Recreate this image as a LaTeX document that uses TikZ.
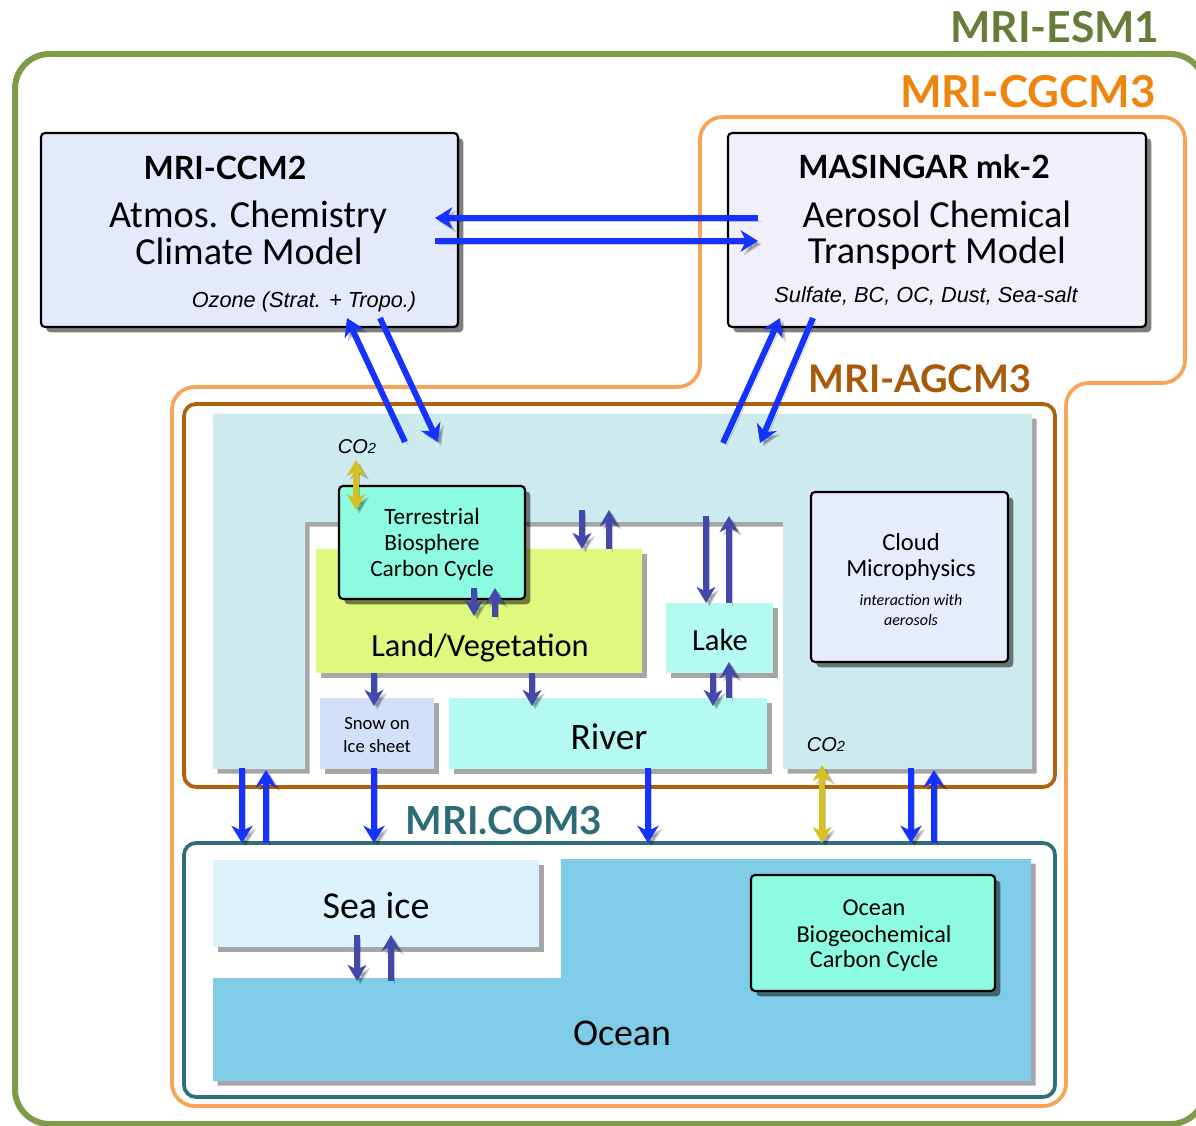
\documentclass[tikz,border=0pt]{standalone}
\usepackage{fontspec}
\setmainfont{Carlito}
\newfontfamily\arialf{Liberation Sans}
\newfontfamily\ttlf{Lato}
\usetikzlibrary{arrows.meta,shadows,fit}
\definecolor{esmgreen}{HTML}{7E9B4A}
\definecolor{esmtxt}{HTML}{667D39}
\definecolor{cgcm}{HTML}{F8A457}
\definecolor{cgcmtxt}{HTML}{EE8511}
\definecolor{agcm}{HTML}{B35F0C}
\definecolor{agcmtxt}{HTML}{A85A0A}
\definecolor{com}{HTML}{2E6F7B}
\definecolor{comtxt}{HTML}{2D6B76}
\definecolor{atmos}{HTML}{CDEBEE}
\definecolor{landc}{HTML}{DEF97E}
\definecolor{bioc}{HTML}{8CFBE0}
\definecolor{waterc}{HTML}{B4FAF2}
\definecolor{snowc}{HTML}{D3E0FA}
\definecolor{cloudc}{HTML}{E6ECFC}
\definecolor{ccmfill}{HTML}{E5E9FC}
\definecolor{masfill}{HTML}{F1EFFC}
\definecolor{seaicec}{HTML}{DCF2FC}
\definecolor{oceanc}{HTML}{7ECCE8}
\definecolor{ablue}{HTML}{1433FF}
\definecolor{apurple}{HTML}{4249AA}
\definecolor{ayellow}{HTML}{D6C21E}
\tikzset{
  shd/.style={drop shadow={shadow xshift=3.5pt,shadow yshift=-3.5pt,fill=black,opacity=0.35}},
  plainbox/.style={inner sep=0pt, shd, draw=none},
  framedbox/.style={inner sep=0pt, drop shadow={shadow xshift=4pt,shadow yshift=-4pt,fill=black,opacity=0.5}, draw=black, line width=1.6pt, rounded corners=3pt},
  txt/.style={inner sep=0pt, align=center, text=black},
  ttl/.style={inner sep=0pt, font=\ttlf\bfseries},
  ashadow/.style={preaction={draw=black, opacity=0.22, transform canvas={xshift=2.5pt,yshift=-2.5pt}}},
  barrow/.style={ashadow, draw=ablue, line width=4.5pt, -{Stealth[length=13pt,width=16pt,inset=4pt]}},
  parrow/.style={ashadow, draw=apurple, line width=4.3pt, -{Stealth[length=12pt,width=14pt,inset=3.5pt]}},
  yarrow/.style={ashadow, draw=ayellow, line width=4.5pt, {Stealth[length=12pt,width=14pt,inset=3.5pt]}-{Stealth[length=12pt,width=14pt,inset=3.5pt]}},
}
\begin{document}
\begin{tikzpicture}[x=0.75pt,y=-0.75pt]
\clip (0,0) rectangle (1196,1126);
\fill[white] (0,0) rectangle (1196,1126);
% ---- frames
\draw[esmgreen, line width=4.5pt, rounded corners=26pt] (15,54) rectangle (1205,1124);
\draw[cgcm, line width=2.8pt, rounded corners=17pt] (900,117) -- (1185,117) -- (1185,383) -- (1066,383) -- (1066,1106) -- (172,1106) -- (172,387) -- (700,387) -- (700,117) -- cycle;
\draw[agcm, line width=2.8pt, rounded corners=9pt] (184,404) rectangle (1055,787);
\draw[com, line width=2.8pt, rounded corners=9pt] (184,843) rectangle (1055,1097);
% ---- titles
\node[ttl, text=esmtxt, font=\ttlf\bfseries\fontsize{32pt}{36pt}\selectfont] (tesm) at (1055,27) {MRI-ESM1};
\node[ttl, text=cgcmtxt, font=\ttlf\bfseries\fontsize{33pt}{36pt}\selectfont] (tcgcm) at (1028,92) {MRI-CGCM3};
\node[ttl, text=agcmtxt, font=\ttlf\bfseries\fontsize{28.5pt}{32pt}\selectfont] (tagcm) at (920,379) {MRI-AGCM3};
\node[ttl, text=comtxt, font=\ttlf\bfseries\fontsize{29pt}{32pt}\selectfont] (tcom) at (504,821) {MRI.COM3};
% ---- atmosphere
\path[fill=atmos, shd] (213,414) -- (1032,414) -- (1032,769) -- (783,769) -- (783,522) -- (305,522) -- (305,769) -- (213,769) -- cycle;
\node[inner sep=0pt] (atm) at (620,468) {};
% ---- land boxes
\node[plainbox, fill=landc, fit={(316,549)(642,673)}] (land) {};
\node[framedbox, fill=bioc, fit={(339,486)(525,599)}] (terr) {};
\node[plainbox, fill=waterc, fit={(666,603)(773,673)}] (lake) {};
\node[plainbox, fill=waterc, fit={(449,698)(767,769)}] (river) {};
\node[plainbox, fill=snowc, fit={(320,698)(434,769)}] (snow) {};
\node[framedbox, fill=cloudc, fit={(811,492)(1008,662)}] (cloud) {};
% ---- ocean boxes
\path[fill=oceanc, shd] (561,859) -- (1031,859) -- (1031,1081) -- (213,1081) -- (213,978) -- (561,978) -- cycle;
\node[inner sep=0pt] (ocean) at (622,1033) {};
\node[plainbox, fill=seaicec, fit={(213,860)(539,947)}] (seaice) {};
\node[framedbox, fill=bioc, fit={(751,875)(995,991)}] (obio) {};
% ---- top boxes
\node[framedbox, fill=ccmfill, fit={(41,133)(458,327)}] (ccm) {};
\node[framedbox, fill=masfill, fit={(728,133)(1146,327)}] (mas) {};
% ---- texts
\node[ttl, font=\ttlf\bfseries\fontsize{24pt}{28pt}\selectfont] (tccm) at (225,168) {MRI-CCM2};
\node[txt, font=\fontsize{28.7pt}{32pt}\selectfont] (tccm1) at (248,217) {Atmos. Chemistry};
\node[txt, font=\fontsize{28.7pt}{32pt}\selectfont] (tccm2) at (249,251) {Climate Model};
\node[txt, font=\arialf\itshape\fontsize{16.3pt}{19pt}\selectfont] (tccm3) at (304,302) {Ozone (Strat. + Tropo.)};
\node[ttl, font=\ttlf\bfseries\fontsize{24pt}{28pt}\selectfont] (tmas) at (924,167) {MASINGAR mk-2};
\node[txt, font=\fontsize{28.7pt}{32pt}\selectfont] (tmas1) at (937,214) {Aerosol Chemical};
\node[txt, font=\fontsize{28.7pt}{32pt}\selectfont] (tmas2) at (937,253) {Transport Model};
\node[txt, font=\arialf\itshape\fontsize{16.3pt}{19pt}\selectfont] (tmas3) at (926,296) {Sulfate, BC, OC, Dust, Sea-salt};
\node[txt, font=\arialf\itshape\fontsize{15pt}{18pt}\selectfont] (co2a) at (357,447) {CO{\fontsize{11pt}{12pt}\selectfont 2}};
\node[txt, font=\arialf\itshape\fontsize{15pt}{18pt}\selectfont] (co2b) at (826,745) {CO{\fontsize{11pt}{12pt}\selectfont 2}};
\node[txt, font=\fontsize{17.5pt}{21pt}\selectfont] (tterr1) at (432,516) {Terrestrial};
\node[txt, font=\fontsize{17.5pt}{21pt}\selectfont] (tterr2) at (432,544) {Biosphere};
\node[txt, font=\fontsize{17.5pt}{21pt}\selectfont] (tterr3) at (432,570) {Carbon Cycle};
\node[txt, font=\fontsize{24.3pt}{28pt}\selectfont] (tland) at (480,648) {Land/Vegetation};
\node[txt, font=\fontsize{14pt}{17pt}\selectfont] (tsnow1) at (377,724) {Snow on};
\node[txt, font=\fontsize{14pt}{17pt}\selectfont] (tsnow2) at (377,746) {Ice sheet};
\node[txt, font=\fontsize{23pt}{27pt}\selectfont] (tlake) at (720,640) {Lake};
\node[txt, font=\fontsize{28pt}{32pt}\selectfont] (triver) at (609,737) {River};
\node[txt, font=\fontsize{18.4pt}{22pt}\selectfont] (tcloud1) at (911,542) {Cloud};
\node[txt, font=\fontsize{18.4pt}{22pt}\selectfont] (tcloud2) at (911,570) {Microphysics};
\node[txt, font=\itshape\fontsize{12pt}{14pt}\selectfont] (tcloud3) at (911,600) {interaction with};
\node[txt, font=\itshape\fontsize{12pt}{14pt}\selectfont] (tcloud4) at (911,620) {aerosols};
\node[txt, font=\fontsize{28.5pt}{32pt}\selectfont] (tseaice) at (376,906) {Sea ice};
\node[txt, font=\fontsize{18.2pt}{22pt}\selectfont] (tobio1) at (874,908) {Ocean};
\node[txt, font=\fontsize{18.2pt}{22pt}\selectfont] (tobio2) at (874,936) {Biogeochemical};
\node[txt, font=\fontsize{18.2pt}{22pt}\selectfont] (tobio3) at (874,961) {Carbon Cycle};
\node[txt, font=\fontsize{28.4pt}{32pt}\selectfont] (tocean) at (622,1033) {Ocean};
% ---- connector end points
\coordinate (ccmE1) at (435,218); \coordinate (masW1) at (758,218);
\coordinate (ccmE2) at (435,241); \coordinate (masW2) at (758,241);
\coordinate (ccmS1) at (347,318); \coordinate (atmN1) at (405,442);
\coordinate (ccmS2) at (380,318); \coordinate (atmN2) at (438,442);
\coordinate (masS1) at (780,318); \coordinate (atmN3) at (723,443);
\coordinate (masS2) at (813,318); \coordinate (atmN4) at (760,443);
\coordinate (atmB1) at (242,768); \coordinate (comT1) at (242,843);
\coordinate (atmB2) at (266,770); \coordinate (comT2) at (266,843);
\coordinate (snowB) at (374,768); \coordinate (comT3) at (374,843);
\coordinate (riverB) at (648,768); \coordinate (comT4) at (648,843);
\coordinate (atmB3) at (822,765); \coordinate (comT5) at (822,843);
\coordinate (atmB4) at (911,768); \coordinate (comT6) at (911,843);
\coordinate (atmB5) at (934,770); \coordinate (comT7) at (934,843);
\coordinate (co2t) at (356,460); \coordinate (terrT) at (356,510);
\coordinate (terrB1) at (474,588); \coordinate (landT1) at (474,616);
\coordinate (terrB2) at (495,588); \coordinate (landT2) at (495,617);
\coordinate (atmL1) at (582,510); \coordinate (landT3) at (582,549);
\coordinate (atmL2) at (609,510); \coordinate (landT4) at (609,549);
\coordinate (atmK1) at (706,516); \coordinate (lakeT1) at (706,603);
\coordinate (atmK2) at (729,516); \coordinate (lakeT2) at (729,603);
\coordinate (lakeB1) at (713,673); \coordinate (riverT1) at (713,706);
\coordinate (lakeB2) at (729,662); \coordinate (riverT2) at (729,698);
\coordinate (landB1) at (374,673); \coordinate (snowT) at (374,706);
\coordinate (landB2) at (532,673); \coordinate (riverT3) at (532,706);
\coordinate (iceB1) at (357,935); \coordinate (ocnT1) at (357,981);
\coordinate (iceB2) at (391,935); \coordinate (ocnT2) at (391,981);
% ---- blue arrows
\draw[barrow] (masW1) -- (ccmE1);
\draw[barrow] (ccmE2) -- (masW2);
\draw[barrow] (atmN1) -- (ccmS1);
\draw[barrow] (ccmS2) -- (atmN2);
\draw[barrow] (atmN3) -- (masS1);
\draw[barrow] (masS2) -- (atmN4);
\draw[barrow] (atmB1) -- (comT1);
\draw[barrow] (comT2) -- (atmB2);
\draw[barrow] (snowB) -- (comT3);
\draw[barrow] (riverB) -- (comT4);
\draw[barrow] (atmB4) -- (comT6);
\draw[barrow] (comT7) -- (atmB5);
% ---- yellow arrows
\draw[yarrow] (co2t) -- (terrT);
\draw[yarrow] (atmB3) -- (comT5);
% ---- purple arrows
\draw[parrow] (terrB1) -- (landT1);
\draw[parrow] (landT2) -- (terrB2);
\draw[parrow] (atmL1) -- (landT3);
\draw[parrow] (landT4) -- (atmL2);
\draw[parrow] (atmK1) -- (lakeT1);
\draw[parrow] (lakeT2) -- (atmK2);
\draw[parrow] (lakeB1) -- (riverT1);
\draw[parrow] (riverT2) -- (lakeB2);
\draw[parrow] (landB1) -- (snowT);
\draw[parrow] (landB2) -- (riverT3);
\draw[parrow] (iceB1) -- (ocnT1);
\draw[parrow] (ocnT2) -- (iceB2);
\end{tikzpicture}
\end{document}
